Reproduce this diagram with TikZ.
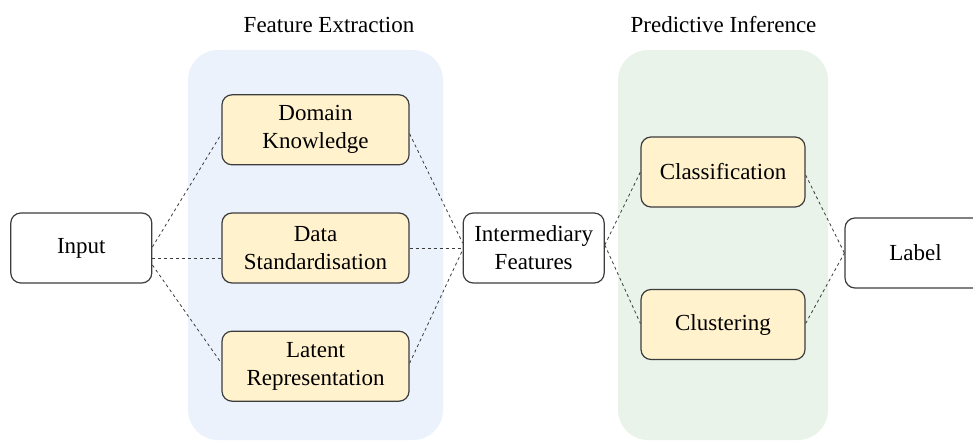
\documentclass[tikz,border=0pt]{standalone}
\usepackage{fontspec}
\setmainfont{Liberation Serif}
\usepackage{tikz}
\usetikzlibrary{positioning}

\definecolor{panelblue}{RGB}{235,242,252}
\definecolor{panelgreen}{RGB}{233,243,233}
\definecolor{boxyellow}{RGB}{255,242,204}
\definecolor{edgegray}{RGB}{60,60,60}

\begin{document}
\begin{tikzpicture}[
  x=1pt, y=-1pt,
  font=\fontsize{23}{28}\selectfont,
  panel/.style={rounded corners=30pt},
  box/.style={draw=edgegray, line width=1.2pt, align=center, rounded corners=10pt,
              minimum height=70pt, inner sep=2pt},
  stage/.style={box, fill=boxyellow, minimum width=187pt},
  io/.style={box, fill=white, minimum width=141pt},
  link/.style={draw=edgegray, line width=0.8pt, dash pattern=on 3pt off 3pt}]
\useasboundingbox (0,0) rectangle (973,441);
% background panels
\fill[panelblue, panel] (188,50) rectangle (443,440);
\fill[panelgreen, panel] (618,50) rectangle (828,440);
\node (fetitle) at (329,25) {Feature Extraction};
\node (pititle) at (723.5,25) {Predictive Inference};
% feature extraction
\node[stage] (std) at (315.5,248) {Data\\Standardisation};
\node[stage, above=47pt of std] (dom) {Domain\\Knowledge};
\node[stage, below=47pt of std] (lat) {Latent\\Representation};
\node[io, left=69pt of std] (input) {Input};
\node[io, right=53pt of std] (inter) {Intermediary\\Features};
% predictive inference
\node[stage, minimum width=164pt] (cls) at (723,172) {Classification};
\node[stage, minimum width=164pt] (clu) at (723,324.5) {Clustering};
\node[io] (label) at (915.5,253) {Label};
% connectors
\path[link]
  ([yshift=1pt]input.east) edge ([yshift=-4pt]dom.west)
  ([yshift=-10pt]input.east) edge ([yshift=-10pt]std.west)
  ([yshift=-17pt]input.east) edge ([yshift=3pt]lat.west)
  ([yshift=-4pt]dom.east) edge ([yshift=5pt]inter.west)
  (std.east) edge (inter.west)
  ([yshift=3pt]lat.east) edge ([yshift=-2pt]inter.west)
  ([yshift=3pt]inter.east) edge (cls.west)
  ([yshift=3pt]inter.east) edge ([yshift=1pt]clu.west)
  ([yshift=-3pt]cls.east) edge (label.west)
  ([yshift=1pt]clu.east) edge (label.west);
\end{tikzpicture}
\end{document}
